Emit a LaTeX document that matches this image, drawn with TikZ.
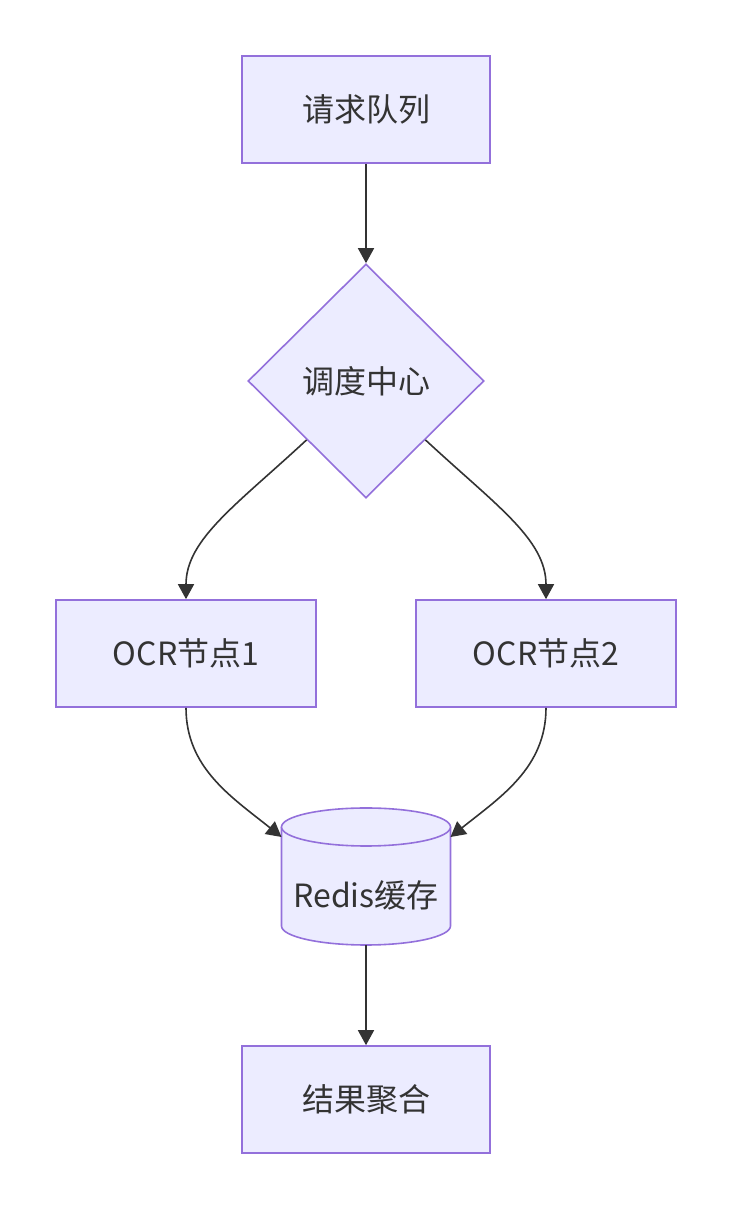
\documentclass[tikz,border=0pt]{standalone}
\usepackage{fontspec}
\setmainfont{Noto Sans CJK SC}
\usetikzlibrary{shapes.geometric,arrows.meta}
\definecolor{nodefill}{HTML}{ECECFF}
\definecolor{nodeline}{HTML}{9370DB}
\definecolor{edgeline}{HTML}{333333}

\begin{document}
\begin{tikzpicture}[x=1pt, y=1pt, font=\fontsize{32}{38}\selectfont, text=edgeline,
        caja/.style={draw=nodeline, fill=nodefill, line width=1.6pt, minimum width=248pt, minimum height=107pt, inner sep=0pt},
        rombo/.style={diamond, draw=nodeline, fill=nodefill, line width=1.6pt, minimum width=236pt, minimum height=234pt, inner sep=0pt},
        flecha/.style={draw=edgeline, line width=1.6pt, -{Triangle[length=15pt,width=16pt]}}]
        \useasboundingbox (0,0) rectangle (732,1210);

        % --- NODOS ---
        \node[caja] (cola) at (366,1100.5) {请求队列};
        \node[rombo] (sched) at (366,829) {调度中心};
        \node[caja, minimum width=260pt] (ocr1) at (186,556.5) {OCR节点1};
        \node[caja, minimum width=260pt] (ocr2) at (546,556.5) {OCR节点2};

        % Cilindro (cache)
        \fill[nodefill] (281.5,383) -- (281.5,284) arc[start angle=180, end angle=360, x radius=84.5, y radius=19] -- (450.5,383) -- cycle;
        \draw[nodeline, line width=1.6pt] (281.5,383) -- (281.5,284) arc[start angle=180, end angle=360, x radius=84.5, y radius=19] -- (450.5,383);
        \draw[nodeline, fill=nodefill, line width=1.6pt] (366,383) ellipse [x radius=84.5, y radius=19];
        \coordinate (redisL) at (281.5,373);
        \coordinate (redisR) at (450.5,373);
        \coordinate (redisB) at (366,265);
        \node[inner sep=0pt] (redis) at (366,315) {Redis缓存};

        \node[caja] (res) at (366,110.5) {结果聚合};

        % --- CONEXIONES ---
        \draw[flecha] (cola) -- (sched);
        \draw[flecha] (sched.south west) .. controls +(-70,-65) and +(0,60) .. (ocr1.north);
        \draw[flecha] (sched.south east) .. controls +(70,-65) and +(0,60) .. (ocr2.north);
        \draw[flecha] (ocr1.south) .. controls +(0,-60) and +(-50,40) .. (redisL);
        \draw[flecha] (ocr2.south) .. controls +(0,-60) and +(50,40) .. (redisR);
        \draw[flecha] (redisB) -- (res);
\end{tikzpicture}
\end{document}
